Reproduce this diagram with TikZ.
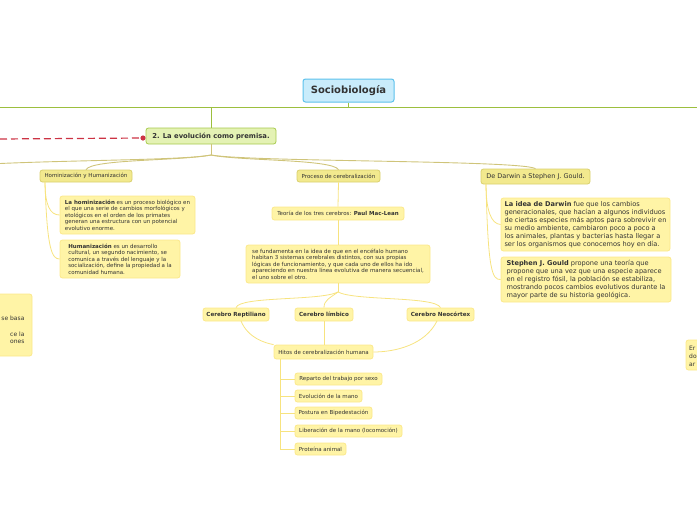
\documentclass[tikz,border=0pt]{standalone}
\usepackage{fontspec}
\setmainfont{DejaVu Sans}
\definecolor{txt}{HTML}{333333}
\definecolor{socf}{HTML}{C9ECFB}
\definecolor{socb}{HTML}{5CC1EC}
\definecolor{mainf}{HTML}{E4F2B4}
\definecolor{mainb}{HTML}{A6CA4D}
\definecolor{topline}{HTML}{9CBF3E}
\definecolor{topf}{HTML}{F2E98E}
\definecolor{topb}{HTML}{D9D06C}
\definecolor{subf}{HTML}{FFF4A6}
\definecolor{subb}{HTML}{FBE88A}
\definecolor{fan}{HTML}{CFC47A}
\definecolor{subl}{HTML}{F7E37F}
\definecolor{redl}{HTML}{CC3344}
\newcommand\fsz[2]{\fontsize{#1}{#2}\selectfont}
\tikzset{
  box/.style={rounded corners=2.5pt, inner sep=0pt, text=txt, line width=0.8pt},
  soc/.style={box, draw=socb, fill=socf, line width=1pt, font=\fsz{10}{12}\bfseries},
  main/.style={box, draw=mainb, fill=mainf, font=\fsz{6.8}{8}\bfseries},
  topic/.style={box, draw=topb, fill=topf, font=\fsz{5.5}{6.5}},
  sub/.style={box, draw=subb, fill=subf, font=\fsz{5.5}{6.5}, align=left},
  subr/.style={box, draw=subb, fill=subf, font=\fsz{6.6}{8}, align=left},
  fanl/.style={draw=fan, line width=0.9pt},
  subc/.style={draw=subl, line width=0.8pt},
}
\begin{document}
\begin{tikzpicture}[x=1pt,y=-1pt]
\useasboundingbox (0,0) rectangle (697,520);
% partial boxes at edges
\node[sub, minimum width=46, minimum height=62] (lp) at (9,325) {};
\node[anchor=east, font=\fsz{6}{7}, text=txt] (lpa) at (28,318) {se basa};
\node[anchor=east, font=\fsz{6}{7}, text=txt] (lpb) at (28,334) {ce la};
\node[anchor=east, font=\fsz{6}{7}, text=txt] (lpc) at (28,342) {ones};
\node[sub, minimum width=24, minimum height=30] (rp) at (698,355) {};
\node[anchor=west, font=\fsz{6}{8}, text=txt, align=left, inner sep=0pt] (rpt) at (689,356) {Er\\do\\ar};
% top line
\draw[topline, line width=1pt] (0,107) -- (697,107);
\node[soc, minimum width=91, minimum height=23] (soc) at (348.5,90.5) {Sociobiología};
\draw[topline, line width=1pt] (soc.south) -- (348.5,107);
\node[main, minimum width=130, minimum height=16] (n2) at (211,136) {2. La evolución como premisa.};
\draw[topline, line width=1pt] (211,107) -- (n2.north);
% red dashed
\coordinate (redend) at (0,139);
\coordinate (reddot) at (143,138);
\draw[redl, line width=1.2pt, dash pattern=on 7pt off 4pt] (redend) -- (reddot);
\fill[redl] (reddot) circle (2.6);
% children
\node[topic, minimum width=92, minimum height=12] (hom) at (86,176) {Hominización y Humanización};
\node[topic, minimum width=83, minimum height=12] (proc) at (338.5,176) {Proceso de cerebralización};
\node[topic, font=\fsz{6.5}{7.5}, minimum width=109, minimum height=15] (dar) at (535.5,176.5) {De Darwin a Stephen J. Gould.};
\coordinate (fork) at (211,155);
\coordinate (ledge) at (0,163.5);
\draw[fanl] (n2.south) -- (fork);
\draw[fanl] (fork) .. controls (185,160) and (80,160) .. (ledge);
\draw[fanl] (fork) .. controls (180,161) and (92,159) .. (hom.north);
\draw[fanl] (fork) .. controls (240,161) and (332,159) .. (proc.north);
\draw[fanl] (fork) .. controls (250,162) and (520,160) .. (dar.north);
% hominizacion
\node[sub, minimum width=135, minimum height=38] (h1) at (127.5,215) {\textbf{La hominización} es un proceso biológico en\\el que una serie de cambios morfológicos y\\etológicos en el orden de los primates\\generan una estructura con un potencial\\evolutivo enorme.};
\node[sub, minimum width=120, minimum height=38] (h2) at (120,259) {\textbf{Humanización} es un desarrollo\\cultural, un segundo nacimiento, se\\comunica a través del lenguaje y la\\socialización, define la propiedad a la\\comunidad humana.};
\coordinate (homb) at (45,182);
\draw[subc] (homb) .. controls (45,205) and (50,215) .. (h1.west);
\draw[subc] (homb) .. controls (47,250) and (52,259) .. (h2.west);
% darwin
\node[subr, minimum width=169, minimum height=53] (d1) at (585.5,224.5) {\textbf{La idea de Darwin} fue que los cambios\\generacionales, que hacían a algunos individuos\\de ciertas especies más aptos para sobrevivir en\\su medio ambiente, cambiaron poco a poco a\\los animales, plantas y bacterias hasta llegar a\\ser los organismos que conocemos hoy en día.};
\node[subr, minimum width=170, minimum height=45] (d2) at (586,279.5) {\textbf{Stephen J. Gould} propone una teoría que\\propone que una vez que una especie aparece\\en el registro fósil, la población se estabiliza,\\mostrando pocos cambios evolutivos durante la\\mayor parte de su historia geológica.};
\coordinate (darb) at (486,184);
\draw[subc] (darb) .. controls (486,210) and (491,224) .. (d1.west);
\draw[subc] (darb) .. controls (488,270) and (492,280) .. (d2.west);
% cerebralizacion
\node[sub, align=center, minimum width=132, minimum height=13] (teo) at (338,213.5) {Teoría de los tres cerebros: \textbf{Paul Mac-Lean}};
\node[sub, minimum width=184, minimum height=38] (fund) at (338,264) {se fundamenta en la idea de que en el encéfalo humano\\habitan 3 sistemas cerebrales distintos, con sus propias\\lógicas de funcionamiento, y que cada uno de ellos ha ido\\apareciendo en nuestra línea evolutiva de manera secuencial,\\el uno sobre el otro.};
\draw[subc] (proc.south) -- (teo.north);
\draw[subc] (teo.south) -- (fund.north);
\node[sub, align=center, font=\fsz{5.6}{6.5}\bfseries, minimum width=66, minimum height=13] (rep) at (236,314.5) {Cerebro Reptiliano};
\node[sub, align=center, font=\fsz{5.6}{6.5}\bfseries, minimum width=58, minimum height=13] (lim) at (324,314.5) {Cerebro límbico};
\node[sub, align=center, font=\fsz{5.6}{6.5}\bfseries, minimum width=67, minimum height=13] (neo) at (440.5,314.5) {Cerebro Neocórtex};
\coordinate (cfork) at (338,292);
\draw[subc] (fund.south) -- (cfork);
\draw[subc] (cfork) .. controls (320,301) and (240,296) .. (rep.north);
\draw[subc] (cfork) .. controls (330,298) and (324,300) .. (lim.north);
\draw[subc] (cfork) .. controls (355,301) and (435,296) .. (neo.north);
\node[sub, align=center, minimum width=99, minimum height=14] (hit) at (323.5,352) {Hitos de cerebralización humana};
\coordinate (repb) at (241,321);
\coordinate (neob) at (437,321);
\draw[subc] (repb) .. controls (248,338) and (265,343) .. (hit.north west);
\draw[subc] (lim.south) -- (hit.north -| lim.south);
\draw[subc] (neob) .. controls (425,345) and (395,352) .. (hit.east);
% list
\node[sub, align=center, minimum width=87, minimum height=12] (l1) at (338.5,379) {Reparto del trabajo por sexo};
\node[sub, align=center, minimum width=67, minimum height=12] (l2) at (328.5,396) {Evolución de la mano};
\node[sub, align=center, minimum width=77, minimum height=12] (l3) at (333.5,413) {Postura en Bipedestación};
\node[sub, align=center, minimum width=107, minimum height=12] (l4) at (348.5,431) {Liberación de la mano (locomoción)};
\node[sub, align=center, minimum width=51, minimum height=12] (l5) at (320.5,449) {Proteína animal};
\coordinate (hitb) at (280,359);
\coordinate (hitend) at (280,449);
\draw[subc] (hitb) -- (hitend) -- (l5.west);
\foreach \n in {l1,l2,l3,l4} \draw[subc] (\n.west) -- (\n.west -| hitb);
\end{tikzpicture}
\end{document}
